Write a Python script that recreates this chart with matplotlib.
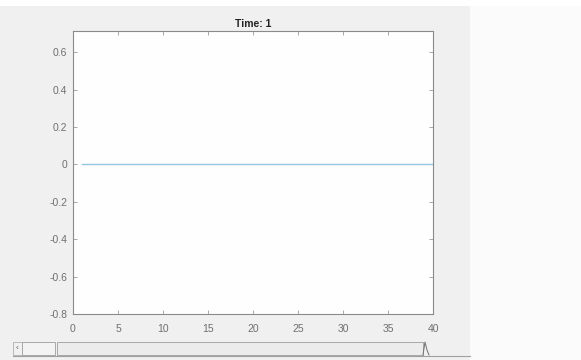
import numpy as np
import matplotlib.pyplot as plt
from matplotlib.patches import Rectangle
from matplotlib.lines import Line2D

plt.rcParams['font.family'] = ['Liberation Sans', 'DejaVu Sans']

# signal at the current time step
t = np.arange(1, 41)
u = np.zeros(len(t))
time_step = 1

x_ticks = [0, 5, 10, 15, 20, 25, 30, 35, 40]
y_ticks = [-0.8, -0.6, -0.4, -0.2, 0, 0.2, 0.4, 0.6]
y_labels = ['-0.8', '-0.6', '-0.4', '-0.2', '0', '0.2', '0.4', '0.6']

W, H = 581, 360
fig = plt.figure(figsize=(W / 100, H / 100), dpi=100)
fig.patch.set_facecolor('#fbfbfb')


def px_rect(x0, y0, x1, y1, **kw):
    # rectangle given in pixel coords (origin top-left)
    r = Rectangle((x0 / W, 1 - y1 / H), (x1 - x0) / W, (y1 - y0) / H,
                  transform=fig.transFigure, **kw)
    fig.add_artist(r)
    return r


# window panel
px_rect(0, 6, 470, 360, facecolor='#f0f0f0', edgecolor='none', zorder=0)
px_rect(0, 0, W, 6, facecolor='#ffffff', edgecolor='none', zorder=0)

ax = fig.add_axes([73 / W, 1 - 314 / H, 360 / W, (314 - 31) / H])
ax.set_facecolor('#fefefe')
ax.plot(t, u, color='#94c6df', lw=1.0)
ax.set_xlim(0, 40)
ax.set_ylim(-0.8, 0.713)
ax.set_xticks(x_ticks)
ax.set_yticks(y_ticks)
ax.set_yticklabels(y_labels)
ax.tick_params(direction='in', length=3, width=0.6, colors='#9a9a9a',
               labelcolor='#707070', labelsize=7.5, top=True, right=True)
ax.tick_params(axis='x', pad=7)
ax.tick_params(axis='y', pad=4)
for s in ax.spines.values():
    s.set_color('#8a8a8a')
    s.set_linewidth(0.8)
ax.set_title(f'Time: {time_step}', fontsize=7.5, fontweight='bold',
             color='#222222', pad=3)

# slider control
px_rect(13, 342, 22, 355, facecolor='#f0f0f0', edgecolor='#b0b0b0', lw=0.6)
fig.text(17.5 / W, 1 - 348.5 / H, '‹', fontsize=6, color='#555555',
         ha='center', va='center')
px_rect(22, 342, 55, 355, facecolor='#f3f3f3', edgecolor='#a8a8a8', lw=0.7)
px_rect(57, 342, 423, 355, facecolor='#ececec', edgecolor='#a8a8a8', lw=0.7)
fig.add_artist(Line2D([13 / W, 470 / W], [1 - 355.5 / H, 1 - 355.5 / H],
                      transform=fig.transFigure, color='#a0a0a0', lw=0.8))
fig.add_artist(Line2D([423 / W, 425 / W, 427 / W, 429 / W],
                      [1 - 355 / H, 1 - 342 / H, 1 - 350 / H, 1 - 355 / H],
                      transform=fig.transFigure, color='#707070', lw=0.7))

fig.savefig('out.png', dpi=100)
